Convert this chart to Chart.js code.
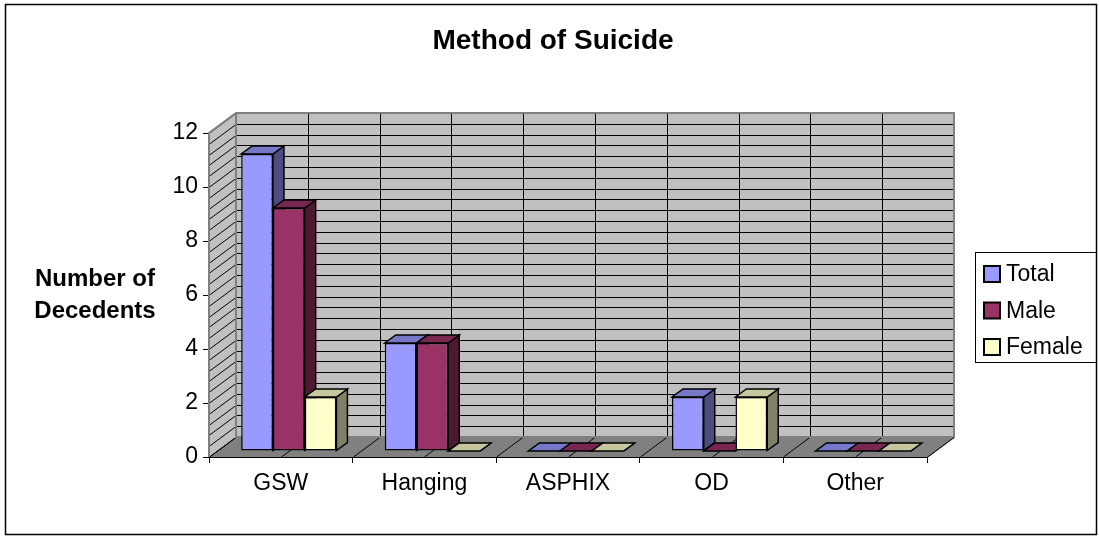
<!DOCTYPE html>
<html>
<head>
<meta charset="utf-8">
<script src="https://cdn.jsdelivr.net/npm/chart.js@4.4.1/dist/chart.umd.min.js"></script>
<style>
  html, body { margin: 0; padding: 0; background: #fff; }
  #wrap { width: 1099px; height: 537px; position: relative; }
</style>
</head>
<body>
<div id="wrap"><canvas id="suicideChart"></canvas></div>
<script>
// data
const categories = ["GSW", "Hanging", "ASPHIX", "OD", "Other"];
const totalCounts = [11, 4, 0, 2, 0];
const maleCounts = [9, 4, 0, 0, 0];
const femaleCounts = [2, 0, 0, 2, 0];
const seriesNames = ["Total", "Male", "Female"];
const chartTitle = "Method of Suicide";
const yTitle = ["Number of", "Decedents"];
const yMax = 12;
const yStep = 2;
const yMinorStep = 0.4;

const FONT = "'Liberation Sans', Arial, sans-serif";
const frontColors = ["#9999FF", "#993366", "#FFFFCC"];

// depth of the 3d box and of the bars
const DX = 27, DY = -20;
const BAR_OFF_X = 8, BAR_OFF_Y = -6;
const BAR_DX = 11, BAR_DY = -8;

function shade(hex, f){
    const n = parseInt(hex.slice(1), 16);
    const r = Math.round(((n >> 16) & 255) * f);
    const g = Math.round(((n >> 8) & 255) * f);
    const b = Math.round((n & 255) * f);
    return "rgb(" + r + "," + g + "," + b + ")";
}

function poly(ctx, pts, fill, stroke, lw){
    ctx.beginPath();
    ctx.moveTo(pts[0][0], pts[0][1]);
    for(let i = 1; i < pts.length; i++) ctx.lineTo(pts[i][0], pts[i][1]);
    ctx.closePath();
    if(fill){ ctx.fillStyle = fill; ctx.fill(); }
    if(stroke){ ctx.strokeStyle = stroke; ctx.lineWidth = lw || 1; ctx.stroke(); }
}

const box3d = {
    id: "box3d",
    beforeDraw(chart){
        const ctx = chart.ctx;
        ctx.save();
        ctx.fillStyle = "#fff";
        ctx.fillRect(0, 0, chart.width, chart.height);
        ctx.strokeStyle = "#000";
        ctx.lineWidth = 1.5;
        ctx.strokeRect(5.5, 4.5, 1091, 530);
        ctx.restore();
    },
    beforeDatasetsDraw(chart){
        const ctx = chart.ctx;
        const a = chart.chartArea;
        const xs = chart.scales.x, ys = chart.scales.y;
        const L = a.left, R = a.right, T = a.top, B = a.bottom;
        ctx.save();

        // back wall
        poly(ctx, [[L+DX, T+DY], [R+DX, T+DY], [R+DX, B+DY], [L+DX, B+DY]], "#C0C0C0");
        // side wall
        poly(ctx, [[L, B], [L+DX, B+DY], [L+DX, T+DY], [L, T]], "#C0C0C0");
        // floor
        poly(ctx, [[L, B], [R, B], [R+DX, B+DY], [L+DX, B+DY]], "#808080");

        ctx.lineWidth = 1;
        ctx.strokeStyle = "#000";
        // horizontal grid on back wall and diagonals on side wall
        for(let i = 0; i * yMinorStep <= yMax + 1e-9; i++){
            const y = Math.round(ys.getPixelForValue(i * yMinorStep)) + 0.5;
            ctx.beginPath();
            ctx.moveTo(L+DX, y+DY);
            ctx.lineTo(R+DX, y+DY);
            ctx.moveTo(L, y);
            ctx.lineTo(L+DX, y+DY);
            ctx.stroke();
        }
        // vertical grid on back wall and diagonals on floor
        const half = (xs.getPixelForValue(1) - xs.getPixelForValue(0)) / 2;
        for(let i = 0; i <= categories.length * 2; i++){
            const x = Math.round(xs.getPixelForValue(0) - half + i * half) + 0.5;
            ctx.beginPath();
            ctx.moveTo(x+DX, T+DY);
            ctx.lineTo(x+DX, B+DY);
            ctx.moveTo(x, B);
            ctx.lineTo(x+DX, B+DY);
            ctx.stroke();
        }
        // wall edges
        ctx.strokeStyle = "#808080";
        ctx.lineWidth = 2;
        ctx.beginPath();
        ctx.moveTo(L, B); ctx.lineTo(L, T); ctx.lineTo(L+DX, T+DY);
        ctx.lineTo(R+DX, T+DY); ctx.lineTo(R+DX, B+DY); ctx.lineTo(R, B);
        ctx.moveTo(L+DX, T+DY); ctx.lineTo(L+DX, B+DY); ctx.lineTo(R+DX, B+DY);
        ctx.stroke();
        ctx.strokeStyle = "#000";
        ctx.lineWidth = 1;
        ctx.beginPath();
        ctx.moveTo(R, B + 0.5); ctx.lineTo(R+DX, B+DY+0.5);
        ctx.stroke();

        // tops and sides of the bars, front faces are drawn by chart.js
        ctx.translate(BAR_OFF_X, BAR_OFF_Y);
        for(let c = 0; c < categories.length; c++){
            chart.data.datasets.forEach((ds, d) => {
                const el = chart.getDatasetMeta(d).data[c];
                const x0 = el.x - el.width / 2, x1 = el.x + el.width / 2;
                const top = Math.min(el.y, el.base), base = el.base;
                const col = frontColors[d];
                poly(ctx, [[x1, base], [x1+BAR_DX, base+BAR_DY], [x1+BAR_DX, top+BAR_DY], [x1, top]],
                    shade(col, 0.5), "#000", 1.5);
                poly(ctx, [[x0, top], [x1, top], [x1+BAR_DX, top+BAR_DY], [x0+BAR_DX, top+BAR_DY]],
                    shade(col, 0.78), "#000", 1.5);
            });
        }
    },
    afterDatasetsDraw(chart){
        chart.ctx.restore();
    },
    afterDraw(chart){
        const ctx = chart.ctx;
        ctx.save();
        // title
        ctx.fillStyle = "#000";
        ctx.font = "bold 28px " + FONT;
        ctx.textAlign = "center";
        ctx.textBaseline = "middle";
        ctx.fillText(chartTitle, 553, 41);
        // axis title
        ctx.font = "bold 24px " + FONT;
        ctx.fillText(yTitle[0], 95, 279);
        ctx.fillText(yTitle[1], 95, 311);
        // legend box
        ctx.textAlign = "left";
        ctx.strokeStyle = "#000";
        ctx.lineWidth = 1;
        ctx.strokeRect(975.5, 252.5, 121, 110);
        ctx.font = "23px " + FONT;
        chart.data.datasets.forEach((ds, d) => {
            const cy = 274 + d * 36.5;
            ctx.fillStyle = frontColors[d];
            ctx.fillRect(984, cy - 8, 16, 16);
            ctx.lineWidth = 2;
            ctx.strokeRect(984, cy - 8, 16, 16);
            ctx.fillStyle = "#000";
            ctx.fillText(ds.label, 1006, cy + 1);
        });
        ctx.restore();
    }
};

new Chart(document.getElementById("suicideChart"), {
    type: "bar",
    data: {
        labels: categories,
        datasets: [
            { label: seriesNames[0], data: totalCounts, backgroundColor: frontColors[0] },
            { label: seriesNames[1], data: maleCounts, backgroundColor: frontColors[1] },
            { label: seriesNames[2], data: femaleCounts, backgroundColor: frontColors[2] }
        ]
    },
    options: {
        responsive: true,
        maintainAspectRatio: false,
        animation: false,
        devicePixelRatio: 1,
        layout: { padding: { left: 0, right: 172, top: 133, bottom: 0 } },
        datasets: {
            bar: {
                borderColor: "#000",
                borderWidth: 1.5,
                borderSkipped: false,
                categoryPercentage: 0.663,
                barPercentage: 1,
                clip: false
            }
        },
        plugins: {
            legend: { display: false },
            tooltip: { enabled: false },
            title: { display: false }
        },
        scales: {
            x: {
                afterFit(scale){ scale.height = 80; },
                grid: { drawOnChartArea: false, offset: true, tickLength: 6, color: "#000" },
                border: { display: true, color: "#000", width: 1 },
                ticks: { color: "#000", font: { family: FONT, size: 23 }, padding: 7 }
            },
            y: {
                min: 0,
                max: yMax,
                afterFit(scale){ scale.width = 209; },
                grid: { drawOnChartArea: false, tickLength: 6, color: "#000" },
                border: { display: true, color: "#000", width: 1 },
                ticks: { stepSize: yStep, color: "#000", font: { family: FONT, size: 23 }, padding: 5 }
            }
        }
    },
    plugins: [box3d]
});
</script>
</body>
</html>
